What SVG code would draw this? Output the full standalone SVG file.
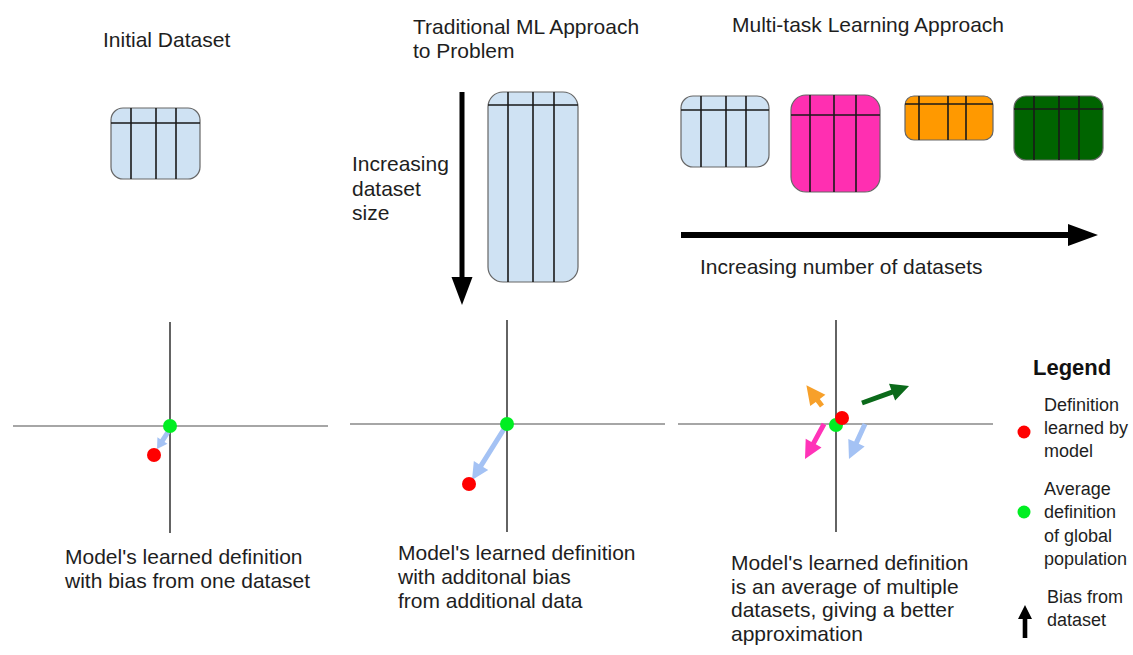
<svg xmlns="http://www.w3.org/2000/svg" width="1133" height="655" viewBox="0 0 1133 655">
  <style>
    text { font-family: "Liberation Sans", Arial, sans-serif; font-size: 21px; fill: #1e1e1e; }
    .leg { font-size: 18px; }
    .title { font-weight: bold; font-size: 22px; fill: #111; }
    .tbl { stroke: #666; stroke-width: 1.2; }
    .grid { stroke: #1a1a1a; stroke-width: 1.6; fill: none; }
    .axh { stroke: #888; stroke-width: 1.6; }
    .axv { stroke: #222; stroke-width: 1.4; }
    .blue { fill: #cfe2f3; }
    .pink { fill: #ff2fb1; }
    .orange { fill: #ff9900; }
    .green { fill: #006400; }
    .red-dot { fill: #ff0000; }
    .green-dot { fill: #00ee22; }
  </style>
  <rect width="1133" height="655" fill="#ffffff"/>

  <!-- column headings -->
  <g id="headings">
    <text x="103" y="47">Initial Dataset</text>
    <text x="413" y="34">Traditional ML Approach</text>
    <text x="413" y="58">to Problem</text>
    <text x="732" y="32">Multi-task Learning Approach</text>
  </g>

  <!-- dataset tables -->
  <g id="table-initial">
    <rect class="tbl blue" x="111" y="108" width="89" height="71" rx="12"/>
    <path class="grid" d="M111,123 H200 M131,108 V179 M156,108 V179 M176,108 V179"/>
  </g>
  <g id="table-large">
    <rect class="tbl blue" x="488" y="92" width="90" height="190" rx="15"/>
    <path class="grid" d="M488,105 H578 M508,92 V282 M533,92 V282 M554,92 V282"/>
  </g>
  <g id="table-mt-blue">
    <rect class="tbl blue" x="681" y="96" width="88" height="71" rx="12"/>
    <path class="grid" d="M681,110 H769 M701,96 V167 M726,96 V167 M746,96 V167"/>
  </g>
  <g id="table-mt-pink">
    <rect class="tbl pink" x="791" y="95" width="89" height="97" rx="15"/>
    <path class="grid" d="M791,115 H880 M810,95 V192 M834,95 V192 M856,95 V192"/>
  </g>
  <g id="table-mt-orange">
    <rect class="tbl orange" x="905" y="96" width="88" height="44" rx="9"/>
    <path class="grid" d="M905,104 H993 M919,96 V140 M948,96 V140 M966,96 V140"/>
  </g>
  <g id="table-mt-green">
    <rect class="tbl green" x="1014" y="96" width="89" height="64" rx="12"/>
    <path class="grid" d="M1014,109 H1103 M1034,96 V160 M1059,96 V160 M1079,96 V160"/>
  </g>

  <!-- growth arrows and their labels -->
  <g id="connectors">
    <path transform="translate(462,92) rotate(90)" fill="#000" d="M0,-2.5 H185 V-10.5 L213,0 L185,10.5 V2.5 H0 Z"/>
    <path transform="translate(681,235)" fill="#000" d="M0,-3 H387 V-11 L417,0 L387,11 V3 H0 Z"/>
  </g>
  <g id="size-label">
    <text x="352" y="171">Increasing</text>
    <text x="352" y="196">dataset</text>
    <text x="352" y="220">size</text>
  </g>
  <g id="count-label">
    <text x="700" y="274">Increasing number of datasets</text>
  </g>

  <!-- panel 1: single dataset -->
  <g id="plot-initial">
    <line class="axh" x1="13" y1="426" x2="328" y2="426"/>
    <line class="axv" x1="170" y1="322" x2="170" y2="533"/>
    <path transform="translate(168,432) rotate(122.9)" fill="#a4c2f4" d="M0,-2.5 H10.2 V-6 L20.2,0 L10.2,6 V2.5 H0 Z"/>
    <circle class="green-dot" cx="170" cy="426" r="7"/>
    <circle class="red-dot" cx="154" cy="455" r="7"/>
    <text x="65" y="564">Model's learned definition</text>
    <text x="65" y="588">with bias from one dataset</text>
  </g>

  <!-- panel 2: larger single dataset -->
  <g id="plot-traditional">
    <line class="axh" x1="350" y1="424" x2="665" y2="424"/>
    <line class="axv" x1="507" y1="320" x2="507" y2="532"/>
    <path transform="translate(504,429) rotate(122.1)" fill="#a4c2f4" d="M0,-2.5 H43.2 V-8.5 L60.2,0 L43.2,8.5 V2.5 H0 Z"/>
    <circle class="green-dot" cx="507" cy="424" r="7"/>
    <circle class="red-dot" cx="469" cy="484" r="7"/>
    <text x="398" y="560">Model's learned definition</text>
    <text x="398" y="584">with additonal bias</text>
    <text x="398" y="608">from additional data</text>
  </g>

  <!-- panel 3: several datasets -->
  <g id="plot-multitask">
    <line class="axh" x1="678" y1="424" x2="993" y2="424"/>
    <line class="axv" x1="836" y1="320" x2="836" y2="532"/>
    <path transform="translate(822,406) rotate(-126.9)" fill="#f7a02a" d="M0,-2.5 H7 V-9.5 L26,0 L7,9.5 V2.5 H0 Z"/>
    <path transform="translate(862,403) rotate(-19.9)" fill="#0b6a1a" d="M0,-2.5 H32 V-9 L50,0 L32,9 V2.5 H0 Z"/>
    <path transform="translate(824,424) rotate(118.5)" fill="#ff33b8" d="M0,-2.5 H21.8 V-9 L39.8,0 L21.8,9 V2.5 H0 Z"/>
    <path transform="translate(865,424) rotate(114.6)" fill="#a4c2f4" d="M0,-2.5 H20.5 V-9 L38.5,0 L20.5,9 V2.5 H0 Z"/>
    <circle class="green-dot" cx="836" cy="425" r="7"/>
    <circle class="red-dot" cx="842" cy="418" r="7"/>
    <text x="731" y="570">Model's learned definition</text>
    <text x="731" y="594">is an average of multiple</text>
    <text x="731" y="617">datasets, giving a better</text>
    <text x="731" y="641">approximation</text>
  </g>

  <!-- legend -->
  <g id="legend">
    <text class="title" x="1033" y="375">Legend</text>
    <circle class="red-dot" cx="1024" cy="432" r="6.5"/>
    <text class="leg" x="1044" y="411">Definition</text>
    <text class="leg" x="1044" y="434">learned by</text>
    <text class="leg" x="1044" y="457">model</text>
    <circle class="green-dot" cx="1024" cy="512" r="6.5"/>
    <text class="leg" x="1044" y="495">Average</text>
    <text class="leg" x="1044" y="518">definition</text>
    <text class="leg" x="1044" y="542">of global</text>
    <text class="leg" x="1044" y="565">population</text>
    <path transform="translate(1025,638) rotate(-90)" fill="#000" d="M0,-2.3 H19 V-7 L33,0 L19,7 V2.3 H0 Z"/>
    <text class="leg" x="1047" y="603">Bias from</text>
    <text class="leg" x="1047" y="626">dataset</text>
  </g>
</svg>
